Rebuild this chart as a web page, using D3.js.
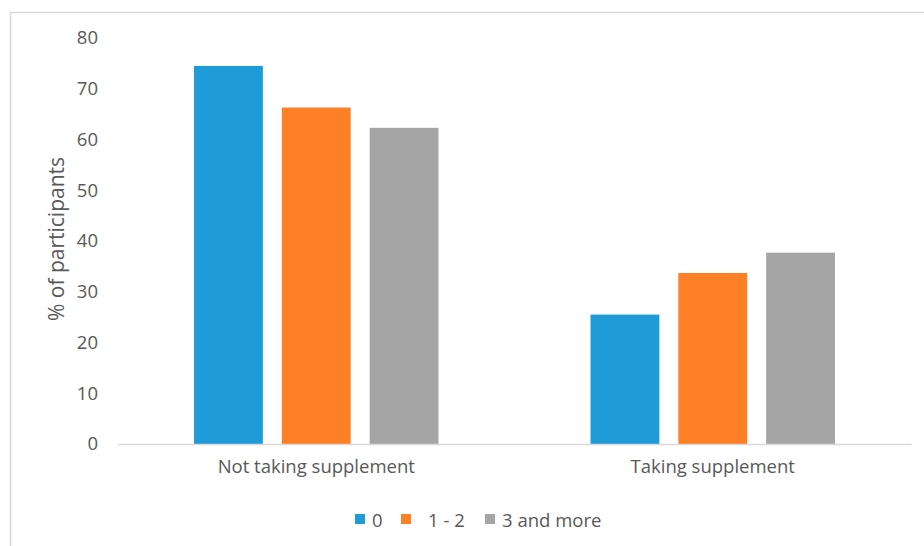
<!DOCTYPE html>
<html>
<head>
<meta charset="utf-8">
<script src="https://cdn.jsdelivr.net/npm/d3@7"></script>
<style>
  body { margin: 0; background: #fff; }
  text { font-family: "Open Sans", sans-serif; fill: #595959; }
</style>
</head>
<body>
<div id="chart"></div>
<script>
const categories = ["Not taking supplement", "Taking supplement"];
const seriesNames = ["0", "1 - 2", "3 and more"];
const series0 = [74.5, 25.5];
const series12 = [66.3, 33.7];
const series3plus = [62.3, 37.7];
const yTicks = [0, 10, 20, 30, 40, 50, 60, 70, 80];
const colors = ["#1f9bd7", "#fe7f26", "#a5a5a5"];

const allSeries = [series0, series12, series3plus];
const W = 924, H = 546;
const margin = {top: 38, right: 13, bottom: 102, left: 118}; // plot area margins
const width = W - margin.left - margin.right;
const height = H - margin.top - margin.bottom;

const svg = d3.select("#chart").append("svg")
    .attr("width", W)
    .attr("height", H);

// outer chart border
svg.append("rect")
    .attr("x", 10.5).attr("y", 12.5)
    .attr("width", W).attr("height", H)
    .attr("fill", "none")
    .attr("stroke", "#d9d9d9")
    .attr("stroke-width", 1.5);

const g = svg.append("g").attr("transform", `translate(${margin.left},${margin.top})`);

const x = d3.scaleBand().domain(categories).range([0, width]).paddingInner(0).paddingOuter(0);
const x1 = d3.scaleBand().domain(seriesNames).range([76, x.bandwidth() - 76]).paddingInner(0.216).paddingOuter(0);
const y = d3.scaleLinear().domain([0, 80]).range([height, 0]);

// y tick labels (no gridlines)
const yAxis = g.append("g")
    .call(d3.axisLeft(y).tickValues(yTicks).tickSize(0).tickPadding(20));
yAxis.select(".domain").remove();
yAxis.selectAll("text").style("font-size", "18.5px").attr("fill", "#595959");

// bars
categories.forEach((cat, ci) => {
    g.selectAll(null)
        .data(seriesNames.map((s, si) => ({s, v: allSeries[si][ci], c: colors[si]})))
        .enter().append("rect")
            .attr("x", d => x(cat) + x1(d.s))
            .attr("width", x1.bandwidth())
            .attr("y", d => y(d.v))
            .attr("height", d => height - y(d.v))
            .attr("fill", d => d.c);
});

// x axis
const xAxis = g.append("g")
    .attr("transform", `translate(0,${height})`)
    .call(d3.axisBottom(x).tickSize(0).tickPadding(16));
xAxis.select(".domain").attr("stroke", "#d9d9d9").attr("stroke-width", 1.3);
xAxis.selectAll("text").style("font-size", "18.5px").attr("fill", "#595959");

// y axis title
svg.append("text")
    .attr("transform", `translate(64,${margin.top + height / 2 - 2}) rotate(-90)`)
    .attr("text-anchor", "middle")
    .style("font-size", "21px")
    .text("% of participants");

// legend
const legendX = [355, 401, 485];
const legendTextX = [372, 428, 502];
const legend = svg.append("g");
seriesNames.forEach((s, i) => {
    legend.append("rect")
        .attr("x", legendX[i]).attr("y", 514)
        .attr("width", 10).attr("height", 10)
        .attr("fill", colors[i]);
    legend.append("text")
        .attr("x", legendTextX[i]).attr("y", 527)
        .style("font-size", "18.5px")
        .text(s);
});
</script>
</body>
</html>
